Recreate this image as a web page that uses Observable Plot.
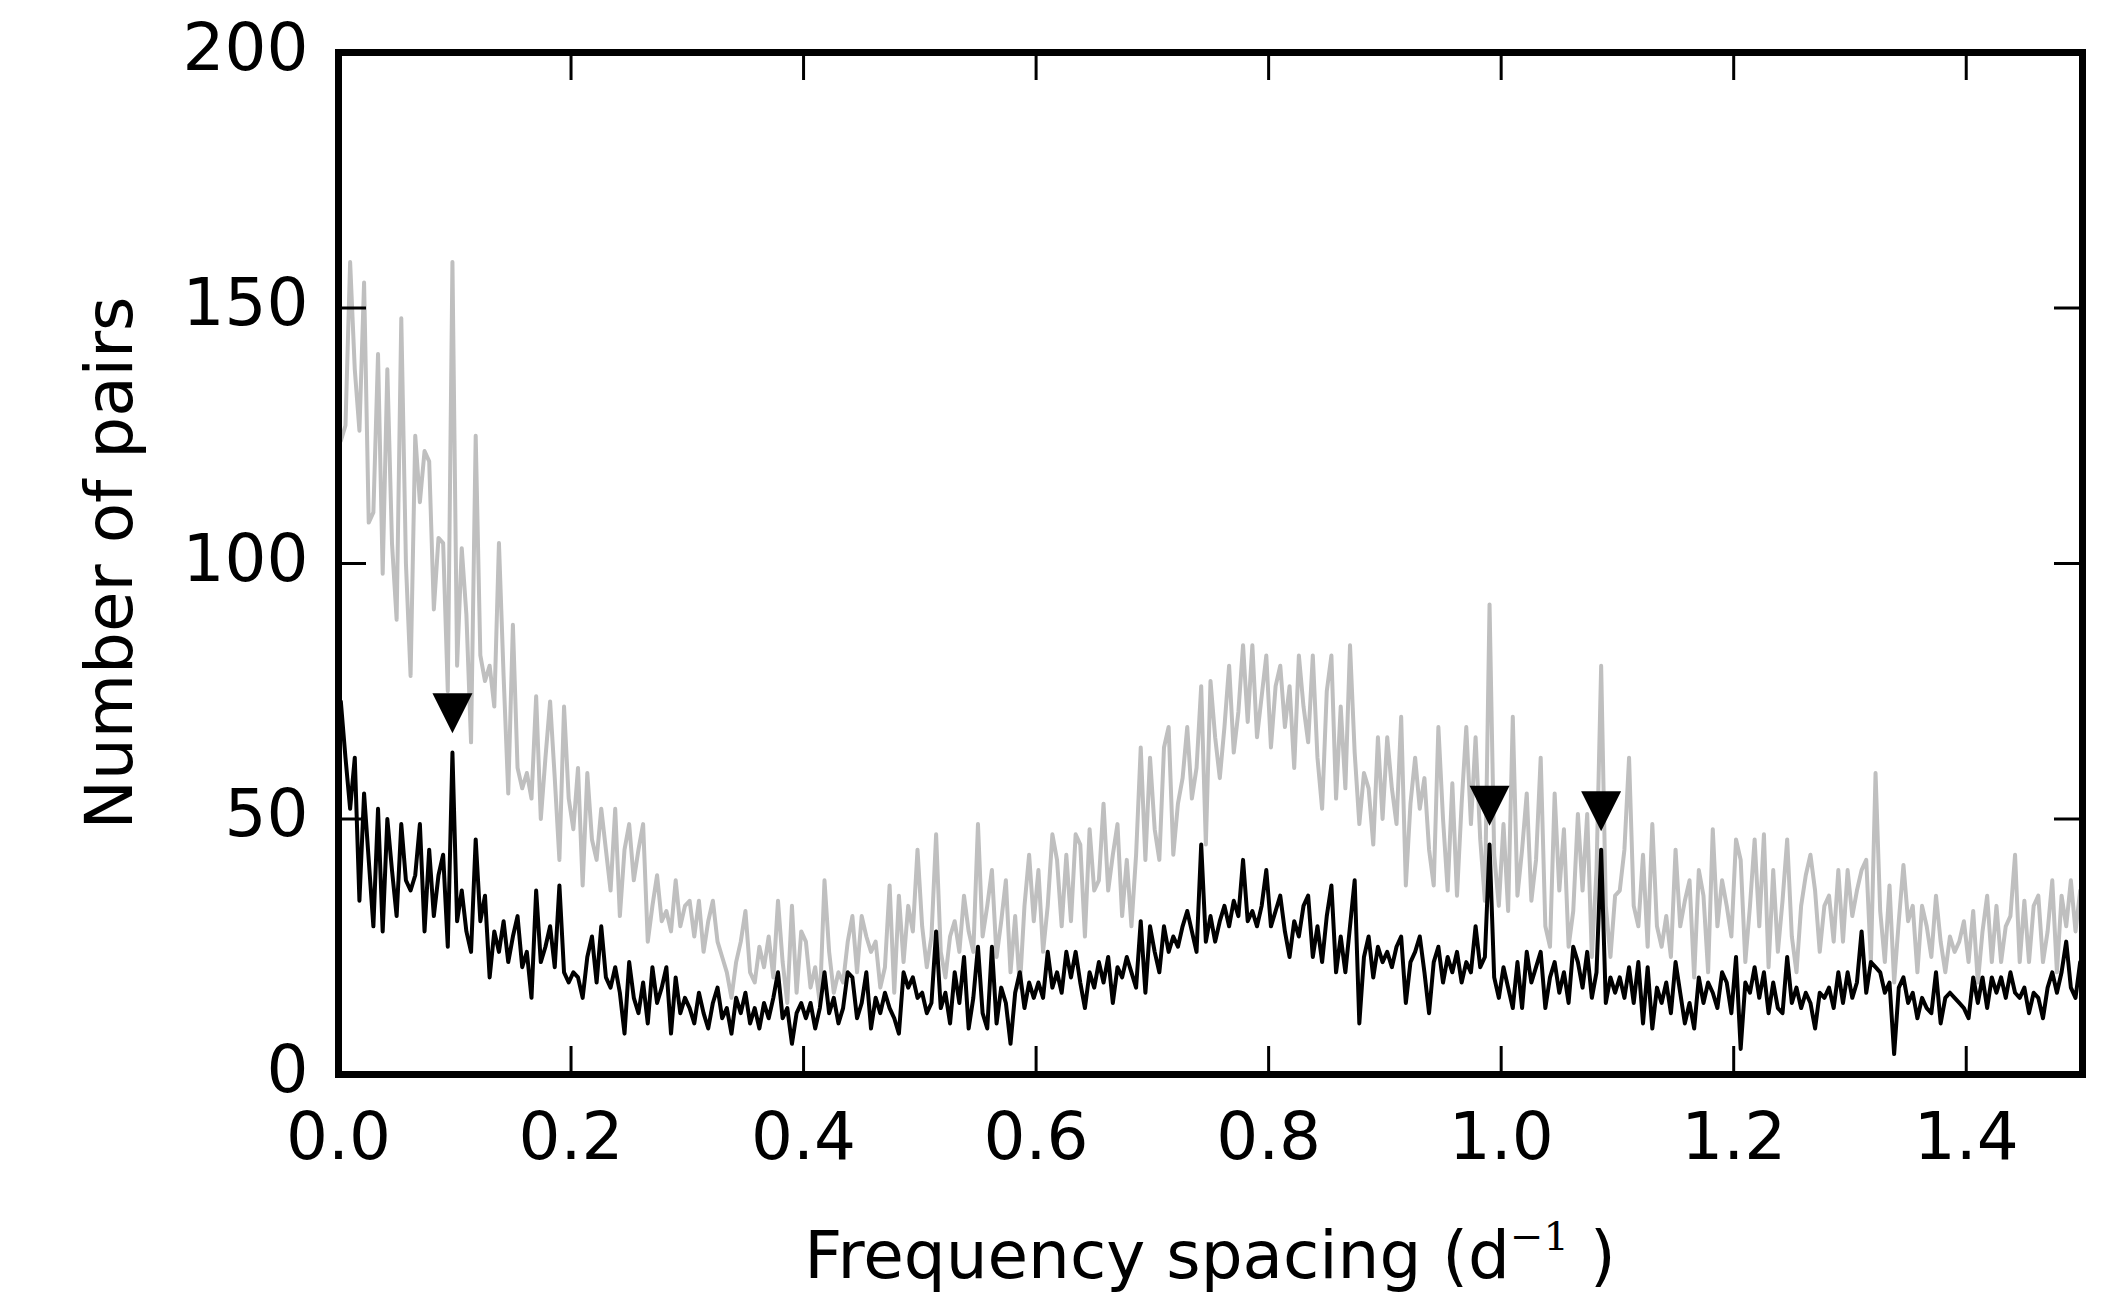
<!DOCTYPE html>
<html>
<head>
<meta charset="utf-8">
<script src="https://cdn.jsdelivr.net/npm/d3@7"></script>
<script src="https://cdn.jsdelivr.net/npm/@observablehq/plot@0.6"></script>
<style>
html, body { margin: 0; padding: 0; background: #fff; }
svg { display: block; }
</style>
</head>
<body>
<div id="chart"></div>
<script>
// Number of pairs per frequency-spacing bin (bin width 0.004 d^-1, 0 to 1.5)
const binWidth = 0.004;
// grey series (all pairs)
const gray1 = [
124,127,159,138,126,155,108,110,141,98,138,104,89,148,100,78,125,112,122,120,91,105,104,75,159,
80,103,90,65,125,82,77,80,72,104,78,55,88,60,56,59,54,74,50,62,73,58,42,72,54,
48,60,37,59,46,42,52,44,36,52,31,44,49,38,44,49,26,33,39,30,32,28,38,29,33,
34,27,34,24,30,34,26,23,20,15,22,26,32,20,18,25,21,27,19,34,22,14,33,16,28,
26,17,21,14,38,24,16,20,18,26,31,20,31,27,24,26,17,21,37,16,35,22,33,28,44
];
const gray2 = [
29,21,27,47,24,19,27,30,24,35,28,24,49,27,33,40,23,30,38,20,31,17,33,43,30,
40,24,33,47,42,29,43,30,47,45,27,48,36,38,53,36,43,49,31,42,29,43,64,42,62,
48,42,64,68,43,53,58,68,54,60,76,45,77,66,58,68,80,63,71,84,69,84,66,74,82,
64,76,80,68,76,60,82,72,65,82,62,52,75,82,54,72,56,84,63,49,59,56,45,66,50,
66,56,49,70,37,53,62,52,58,44,37,68,50,36,57,35,53,68,49,66,46,34,92,43,33
];
const gray3 = [
49,32,70,35,44,55,34,42,62,29,25,55,36,48,25,32,51,36,51,23,40,80,33,23,35,
36,44,62,33,29,43,25,49,29,25,31,23,44,29,34,38,19,40,35,20,48,29,38,33,27,
46,42,22,33,46,29,47,21,40,24,34,46,27,20,33,39,43,36,24,33,35,26,40,26,40,
31,36,40,42,22,59,32,22,37,18,30,41,30,33,20,33,29,23,35,26,20,27,24,26,30,
22,32,18,28,35,22,33,22,29,31,43,22,34,22,33,35,22,28,38,20,35,29,38,28,36
];
// black series (selected pairs)
const black1 = [
73,62,52,62,34,55,42,29,52,28,50,40,31,49,38,36,39,49,28,44,31,39,43,25,63,
30,36,28,24,46,30,35,19,28,24,30,22,27,31,21,24,15,36,22,25,29,21,37,20,18,
20,19,15,23,27,18,29,19,17,21,16,8,22,15,12,18,10,21,14,17,21,8,19,12,15,
13,10,16,12,9,14,17,11,13,8,15,12,16,10,13,9,14,11,15,20,11,13,6,12,14,
11,14,9,13,20,12,15,10,13,20,19,11,14,20,9,15,12,16,13,11,8,20,17,19,15
];
const black2 = [
16,12,14,28,13,16,10,20,14,23,9,15,25,12,9,25,10,17,14,6,16,20,13,18,15,
18,15,24,17,20,16,24,19,24,18,13,20,17,22,18,23,14,21,19,23,20,17,30,16,29,
24,20,29,24,27,25,29,32,28,24,45,26,31,26,30,33,29,34,31,42,30,32,29,33,40,
29,32,35,28,23,30,27,33,35,23,29,22,31,37,20,27,20,29,38,10,23,27,19,25,22,
24,21,25,27,14,22,24,27,20,12,22,25,18,23,20,24,18,22,20,29,21,23,45,19,15
];
const black3 = [
21,17,13,22,13,24,18,21,24,13,19,22,16,20,14,25,22,17,24,15,20,44,14,19,16,
19,15,21,14,22,10,21,9,17,14,18,12,22,16,10,14,9,19,14,18,16,13,20,18,12,
23,5,18,16,21,15,20,12,18,13,12,23,14,17,13,16,14,9,16,15,17,13,20,14,20,
15,18,28,16,22,21,20,16,18,4,17,19,14,16,11,15,13,12,20,10,15,16,15,14,13,
11,19,14,19,13,19,16,19,15,20,16,15,17,12,16,15,11,17,20,16,20,26,17,15,22
];
// marked spacings (downward triangles)
const markerX = [0.098, 0.99, 1.086];
const markerY = [70.7, 52.6, 51.5];
// axes
const xDomain = [0, 1.5];
const yDomain = [0, 200];
const xTicks = [0, 0.2, 0.4, 0.6, 0.8, 1.0, 1.2, 1.4];
const yTicks = [0, 50, 100, 150, 200];
const xLabel = "Frequency spacing (d";
const xLabelSup = "\u22121";
const yLabel = "Number of pairs";

// tables: value at each bin centre
function toSeries(values) {
  return values.map((v, k) => ({x: (k + 0.5) * binWidth, y: v}));
}
const gray = toSeries([...gray1, ...gray2, ...gray3]);
const black = toSeries([...black1, ...black2, ...black3]);
const markers = markerX.map((x, i) => ({x, y: markerY[i]}));

const W = 2123, H = 1312, mL = 338, mR = 41, mT = 52, mB = 238;
const fw = W - mL - mR, fh = H - mT - mB;
const tickLen = 28;
const FONT = "'DejaVu Sans', sans-serif";

const triDown = {
  draw(ctx, size) {
    const r = Math.sqrt(size / Math.PI);
    ctx.moveTo(-r, -r);
    ctx.lineTo(r, -r);
    ctx.lineTo(0, r);
    ctx.closePath();
  }
};

const plot = Plot.plot({
  width: W,
  height: H,
  marginLeft: mL,
  marginRight: mR,
  marginTop: mT,
  marginBottom: mB,
  x: {domain: xDomain},
  y: {domain: yDomain},
  style: {fontFamily: FONT, fontSize: "66px", background: "#fff", maxWidth: "none", color: "#000"},
  marks: [
    Plot.lineY(gray, {x: "x", y: "y", stroke: "#bfbfbf", strokeWidth: 4, clip: true}),
    Plot.lineY(black, {x: "x", y: "y", stroke: "#000", strokeWidth: 4, clip: true}),
    Plot.dot(markers, {x: "x", y: "y", symbol: triDown, r: 20, fill: "#000", stroke: "none"}),
    Plot.tickX(xTicks, {x: d => d, stroke: "#000", strokeWidth: 3, insetTop: fh - tickLen}),
    Plot.tickX(xTicks, {x: d => d, stroke: "#000", strokeWidth: 3, insetBottom: fh - tickLen}),
    Plot.tickY(yTicks, {y: d => d, stroke: "#000", strokeWidth: 3, insetRight: fw - tickLen}),
    Plot.tickY(yTicks, {y: d => d, stroke: "#000", strokeWidth: 3, insetLeft: fw - tickLen}),
    Plot.axisX(xTicks, {tickSize: 0, tickPadding: 38, tickFormat: d3.format(".1f"), fontSize: 66, label: null, fill: "#000"}),
    Plot.axisY(yTicks, {tickSize: 0, tickPadding: 30, fontSize: 66, label: null, fill: "#000", dy: -4}),
    Plot.frame({stroke: "#000", strokeWidth: 7})
  ]
});

const svg = d3.select(plot);
const xl = svg.append("text")
  .attr("x", mL + fw / 2)
  .attr("y", 1278)
  .attr("text-anchor", "middle")
  .attr("font-family", FONT)
  .attr("font-size", 66)
  .attr("fill", "#000");
xl.append("tspan").text(xLabel);
xl.append("tspan").attr("dy", -28).attr("font-size", 40).attr("font-family", "'DejaVu Serif', serif").text(xLabelSup);
xl.append("tspan").attr("dy", 28).text(" )");

svg.append("text")
  .attr("transform", `translate(132,${mT + fh / 2}) rotate(-90)`)
  .attr("text-anchor", "middle")
  .attr("font-family", FONT)
  .attr("font-size", 66)
  .attr("fill", "#000")
  .text(yLabel);

document.getElementById("chart").appendChild(plot);
</script>
</body>
</html>
